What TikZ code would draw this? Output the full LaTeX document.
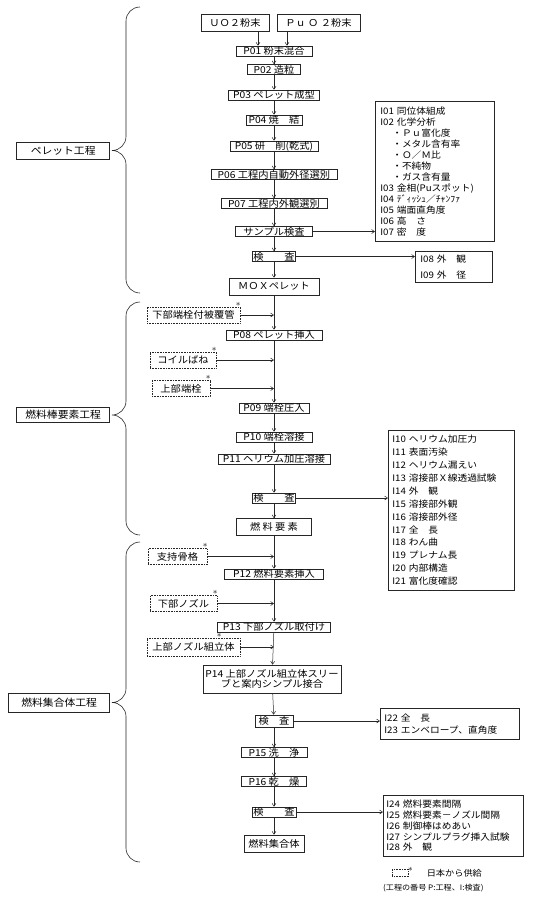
\documentclass[tikz,border=0pt]{standalone}
\usepackage{fontspec}
\newfontfamily\jpfont{Noto Sans CJK JP}[FakeStretch=1.08]
\usetikzlibrary{positioning,arrows.meta}

\tikzset{
  box/.style={draw=black!85, line width=0.6pt, font=\jpfont\fontsize{9.5}{10}\selectfont},
  proc/.style={box, inner xsep=1pt, inner ysep=0pt, minimum height=10pt},
  prod/.style={box, inner sep=1pt, minimum height=17pt},
  starmark/.style={anchor=south, inner sep=0.3pt, font=\small},
  supply/.style={box, densely dotted, inner sep=1pt, minimum height=16pt, label={[starmark, xshift=#1]north east:$\ast$}},
  supply/.default=-2pt,
  stage/.style={box, inner sep=1pt, minimum height=17pt, anchor=east, font=\jpfont\fontsize{10}{11}\selectfont},
  ibox/.style={box, anchor=north west, align=left, inner xsep=5pt, inner ysep=2pt, font=\jpfont\fontsize{9}{12.9}\selectfont},
  flow/.style={->, draw=black!85, line width=0.5pt}
}

\begin{document}
\begin{tikzpicture}[x=1pt, y=-1pt, >={Straight Barb[length=3pt, width=4pt]}]
\useasboundingbox (0,0) rectangle (540,897);

% Powder inputs and pellet line
\node (uo2) [prod, minimum width=68pt] at (235,22.5) {ＵＯ２粉末};
\node (puo2) [prod, minimum width=83pt] at (318.5,22.5) {Ｐｕ Ｏ ２粉末};
\node (p01) [proc, minimum width=76pt] at (274,51) {P01 粉末混合};
\node (p02) [proc, minimum width=53pt] at (274,69.5) {P02 造粒};
\node (p03) [proc, minimum width=91pt] at (274,95) {P03 ペレット成型};
\node (p04) [proc, minimum width=56pt] at (274,120) {P04 焼　結};
\node (p05) [proc, minimum width=88pt] at (274,146) {P05 研　削(乾式)};
\node (p06) [proc, minimum width=126pt] at (274,174.5) {P06 工程内自動外径選別};
\node (p07) [proc, minimum width=106pt] at (274,203.5) {P07 工程内外観選別};
\node (samp) [proc, minimum width=77pt] at (274,231.5) {サンプル検査};
\node (insp1) [proc, minimum width=43pt] at (274,256.5) {検　　査};
\node (mox) [prod, minimum width=90pt] at (274,286.5) {ＭＯＸペレット};

% Fuel rod line
\node (clad) [supply, minimum width=93pt] at (193.5,315) {下部端栓付被覆管};
\node (p08) [proc, minimum width=96pt] at (274,335) {P08 ペレット挿入};
\node (coil) [supply, minimum width=66pt] at (183,360) {コイルばね};
\node (plug) [supply, minimum width=58pt] at (181,388.5) {上部端栓};
\node (p09) [proc, minimum width=70pt] at (274,408) {P09 端栓圧入};
\node (p10) [proc, minimum width=76pt] at (274,437) {P10 端栓溶接};
\node (p11) [proc, minimum width=112pt] at (274,459) {P11 ヘリウム加圧溶接};
\node (insp2) [proc, minimum width=43pt] at (274,498) {検　　査};
\node (elem) [prod, minimum width=75pt] at (274,527) {燃 料 要 素};

% Assembly line
\node (grid) [supply, minimum width=59pt] at (177.5,556.5) {支持骨格};
\node (p12) [proc, minimum width=99pt] at (274,574) {P12 燃料要素挿入};
\node (bnoz) [supply, minimum width=67pt] at (183.5,603.5) {下部ノズル};
\node (p13) [proc, minimum width=113pt] at (274,627) {P13 下部ノズル取付け};
\node (tnoz) [supply=-21pt, minimum width=93pt, minimum height=18pt] at (193.5,647) {上部ノズル組立体};
\node (p14) [proc, align=center, minimum width=138pt, minimum height=28pt] at (272,679) {P14 上部ノズル組立体スリー\\ブと案内シンプル接合};
\node (insp3) [proc, minimum width=38pt, minimum height=12pt] at (274,721) {検　査};
\node (p15) [proc, minimum width=66pt] at (274,752.5) {P15 洗　浄};
\node (p16) [proc, minimum width=65pt] at (274,781.5) {P16 乾　燥};
\node (insp4) [proc, minimum width=44pt] at (274,812) {検　　査};
\node (assy) [prod, minimum width=60pt] at (274,843.5) {燃料集合体};

% Inspection items
\node (ibox1) [ibox, font=\jpfont\fontsize{9}{11}\selectfont, text width=109pt, minimum height=140pt] at (375,101) {I01 同位体組成\\I02 化学分析\\\hspace*{12pt}・Ｐｕ富化度\\\hspace*{12pt}・メタル含有率\\\hspace*{12pt}・Ｏ／Ｍ比\\\hspace*{12pt}・不純物\\\hspace*{12pt}・ガス含有量\\I03 金相(Puスポット)\\I04 ﾃﾞｨｯｼｭ／ﾁｬﾝﾌｧ\\I05 端面直角度\\I06 高　さ\\I07 密　度};
\node (ibox2) [ibox, font=\jpfont\fontsize{9}{16}\selectfont, text width=67pt, minimum height=31pt] at (415,251) {I08 外　観\\I09 外　径};
\node (ibox3) [ibox, inner xsep=4pt, text width=118pt, minimum height=160pt] at (388,430) {I10 ヘリウム加圧力\\I11 表面汚染\\I12 ヘリウム漏えい\\I13 溶接部Ｘ線透過試験\\I14 外　観\\I15 溶接部外観\\I16 溶接部外径\\I17 全　長\\I18 わん曲\\I19 プレナム長\\I20 内部構造\\I21 富化度確認};
\node (ibox4) [ibox, font=\jpfont\fontsize{9}{12}\selectfont, inner xsep=4pt, text width=131pt, minimum height=31pt] at (380,708) {I22 全　長\\I23 エンベロープ、直角度};
\node (ibox5) [ibox, font=\jpfont\fontsize{9}{10.8}\selectfont, inner xsep=3pt, text width=134pt, minimum height=61pt] at (383,795) {I24 燃料要素間隔\\I25 燃料要素－ノズル間隔\\I26 制御棒はめあい\\I27 シンプルプラグ挿入試験\\I28 外　観};

% Stages
\node (pellet) [stage, minimum width=93pt] at (110,150.5) {ペレット工程};
\node (rod) [stage, minimum width=93pt, minimum height=15pt] at (110,415) {燃料棒要素工程};
\node (assembly) [stage, minimum width=101pt, minimum height=19pt] at (110,702.5) {燃料集合体工程};
\foreach \t/\m/\b in {7/150.5/293, 302/415/535, 542/702.5/862}
  \draw[black!85, line width=0.6pt] (140,\t) to[out=180,in=90] (126,\t+14) -- (126,\m-14) to[out=-90,in=0] (112,\m)
    to[out=0,in=90] (126,\m+14) -- (126,\b-14) to[out=-90,in=180] (140,\b);

% Legend
\node (legbox) [box, densely dotted, inner sep=0pt, minimum width=16pt, minimum height=7pt, anchor=north west, label={[starmark, anchor=south west, xshift=-1pt, yshift=-3pt]north east:$\ast$}] at (392,869) {};
\node (legtext) [right=18pt of legbox, inner sep=0pt, font=\jpfont\fontsize{8.5}{9}\selectfont] {日本から供給};
\node (legnote) [anchor=west, inner sep=0pt, font=\jpfont\fontsize{7.5}{8}\selectfont] at (383,888) {(工程の番号 P:工程、I:検査)};

% Arrows
\draw[flow] ([xshift=23pt]uo2.south) -- ([xshift=23pt]uo2.south |- p01.north);
\draw[flow] ([xshift=-31.5pt]puo2.south) -- ([xshift=-31.5pt]puo2.south |- p01.north);
\foreach \a/\b in {p01/p02, p02/p03, p03/p04, p04/p05, p05/p06, p06/p07, p07/samp, samp/insp1, insp1/mox, mox/p08,
  p08/p09, p09/p10, p10/p11, p11/insp2, insp2/elem, elem/p12, p12/p13, p13/p14, p14/insp3, insp3/p15, p15/p16, p16/insp4, insp4/assy}
  \draw[flow] (\a) -- (\b);
\foreach \s in {clad, coil, plug, grid, bnoz, tnoz}
  \draw[flow] (\s) -- (\s -| p08);
\draw[flow] (samp) -- (samp -| ibox1.west);
\draw[flow] (insp1) -- (insp1 -| ibox2.west);
\draw[flow] (insp2) -- (insp2 -| ibox3.west);
\draw[flow] (insp3) -- (insp3 -| ibox4.west);
\draw[flow] (insp4) -- (insp4 -| ibox5.west);

\end{tikzpicture}
\end{document}
